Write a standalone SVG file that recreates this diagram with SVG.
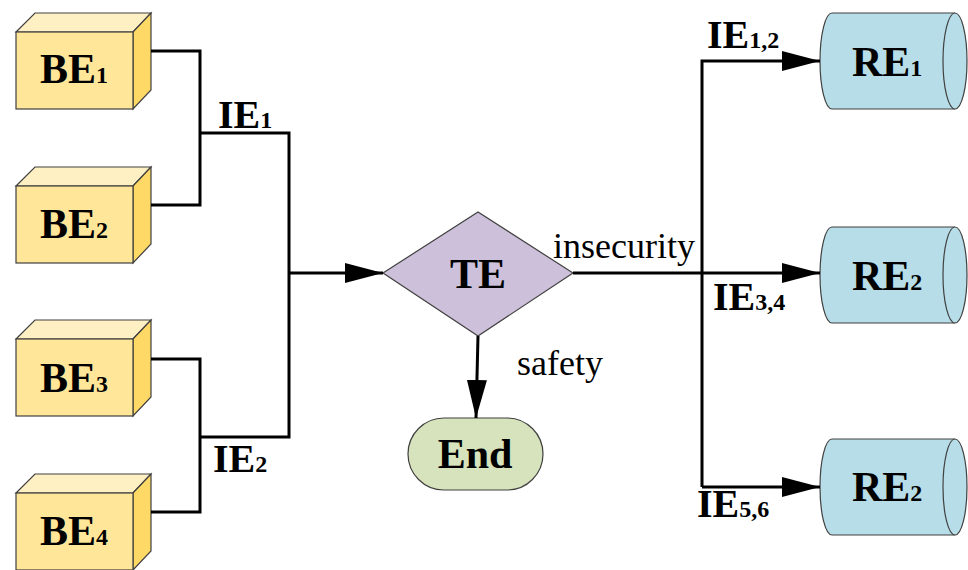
<svg xmlns="http://www.w3.org/2000/svg" width="968" height="570" viewBox="0 0 968 570">
<defs>
<style>
.front{fill:#FFE699;stroke:#404040;stroke-width:1.2}
.top{fill:#FFF0C4;stroke:#404040;stroke-width:1.2}
.side{fill:#FFD966;stroke:#404040;stroke-width:1.2}
.cyl{fill:#B7DDE8;stroke:#404040;stroke-width:1.2}
text{font-family:'Liberation Serif','Times New Roman',Times,'DejaVu Serif',serif}
.lbl{font-weight:bold;font-size:42px;fill:#000}
.ie{font-weight:bold;font-size:40px;fill:#000}
.sub{font-size:24px}
.reg{font-size:36px;fill:#000}
.wire{fill:none;stroke:#000;stroke-width:3}
</style>
<marker id="arr" viewBox="0 0 38 20" refX="38" refY="10" markerWidth="38" markerHeight="20" markerUnits="userSpaceOnUse" orient="auto">
<path d="M0,0 L38,10 L0,20 Z" fill="#000"/>
</marker>
</defs>
<rect width="968" height="570" fill="#fff"/>

<g id="BE1">
<polygon class="top" points="16,32 35,13 151,13 133,32"/>
<polygon class="side" points="133,32 151,13 151,90 133,109"/>
<rect class="front" x="16" y="32" width="117" height="77"/>
<text class="lbl" x="40" y="83" font-family="Liberation Serif">BE<tspan class="sub">1</tspan></text>
</g>
<g id="BE2">
<polygon class="top" points="16,186 35,167 151,167 133,186"/>
<polygon class="side" points="133,186 151,167 151,244 133,263"/>
<rect class="front" x="16" y="186" width="117" height="77"/>
<text class="lbl" x="40" y="238">BE<tspan class="sub">2</tspan></text>
</g>
<g id="BE3">
<polygon class="top" points="16,339 35,320 151,320 133,339"/>
<polygon class="side" points="133,339 151,320 151,397 133,416"/>
<rect class="front" x="16" y="339" width="117" height="77"/>
<text class="lbl" x="40" y="392">BE<tspan class="sub">3</tspan></text>
</g>
<g id="BE4">
<polygon class="top" points="16,493 35,474 151,474 133,493"/>
<polygon class="side" points="133,493 151,474 151,551 133,570"/>
<rect class="front" x="16" y="493" width="117" height="77"/>
<text class="lbl" x="40" y="545">BE<tspan class="sub">4</tspan></text>
</g>

<g id="TE">
<polygon points="383,273 478,212 573,273 478,336" fill="#CCC0DA" stroke="#404040" stroke-width="1.2"/>
<text class="lbl" x="478" y="288" text-anchor="middle">TE</text>
</g>

<g id="End">
<rect x="408" y="418" width="135" height="72" rx="36" ry="36" fill="#D6E3BC" stroke="#404040" stroke-width="1.2"/>
<text class="lbl" x="475" y="468" text-anchor="middle">End</text>
</g>

<g id="RE1">
<path class="cyl" d="M832,13 L955,13 A12,48 0 0 1 955,109 L832,109 A12,48 0 0 1 832,13 Z"/>
<path class="cyl" d="M955,13 A12,48 0 0 0 955,109" fill="none"/>
<text class="lbl" x="852" y="76">RE<tspan class="sub">1</tspan></text>
</g>
<g id="RE2">
<path class="cyl" d="M832,227 L955,227 A12,48 0 0 1 955,323 L832,323 A12,48 0 0 1 832,227 Z"/>
<path class="cyl" d="M955,227 A12,48 0 0 0 955,323" fill="none"/>
<text class="lbl" x="852" y="290">RE<tspan class="sub">2</tspan></text>
</g>
<g id="RE3">
<path class="cyl" d="M832,439 L955,439 A12,48 0 0 1 955,535 L832,535 A12,48 0 0 1 832,439 Z"/>
<path class="cyl" d="M955,439 A12,48 0 0 0 955,535" fill="none"/>
<text class="lbl" x="852" y="501">RE<tspan class="sub">2</tspan></text>
</g>

<g id="connectors">
<polyline class="wire" points="151,51 200,51 200,205 151,205"/>
<polyline class="wire" points="200,133 289,133 289,437 200,437"/>
<polyline class="wire" points="151,359 200,359 200,512 151,512"/>
<line class="wire" x1="289" y1="273" x2="383" y2="273" marker-end="url(#arr)"/>
<line class="wire" x1="478" y1="336" x2="476" y2="418" marker-end="url(#arr)"/>
<line class="wire" x1="573" y1="273" x2="820" y2="273" marker-end="url(#arr)"/>
<polyline class="wire" points="702,487 702,61 820,61" marker-end="url(#arr)"/>
<line class="wire" x1="702" y1="487" x2="820" y2="487" marker-end="url(#arr)"/>
<text class="ie" x="218" y="128">IE<tspan class="sub">1</tspan></text>
<text class="ie" x="213" y="472">IE<tspan class="sub">2</tspan></text>
<text class="ie" x="707" y="48">IE<tspan class="sub">1,2</tspan></text>
<text class="ie" x="713" y="310">IE<tspan class="sub">3,4</tspan></text>
<text class="ie" x="697" y="517">IE<tspan class="sub">5,6</tspan></text>
<text class="reg" x="553" y="258">insecurity</text>
<text class="reg" x="517" y="375">safety</text>
</g>
</svg>
